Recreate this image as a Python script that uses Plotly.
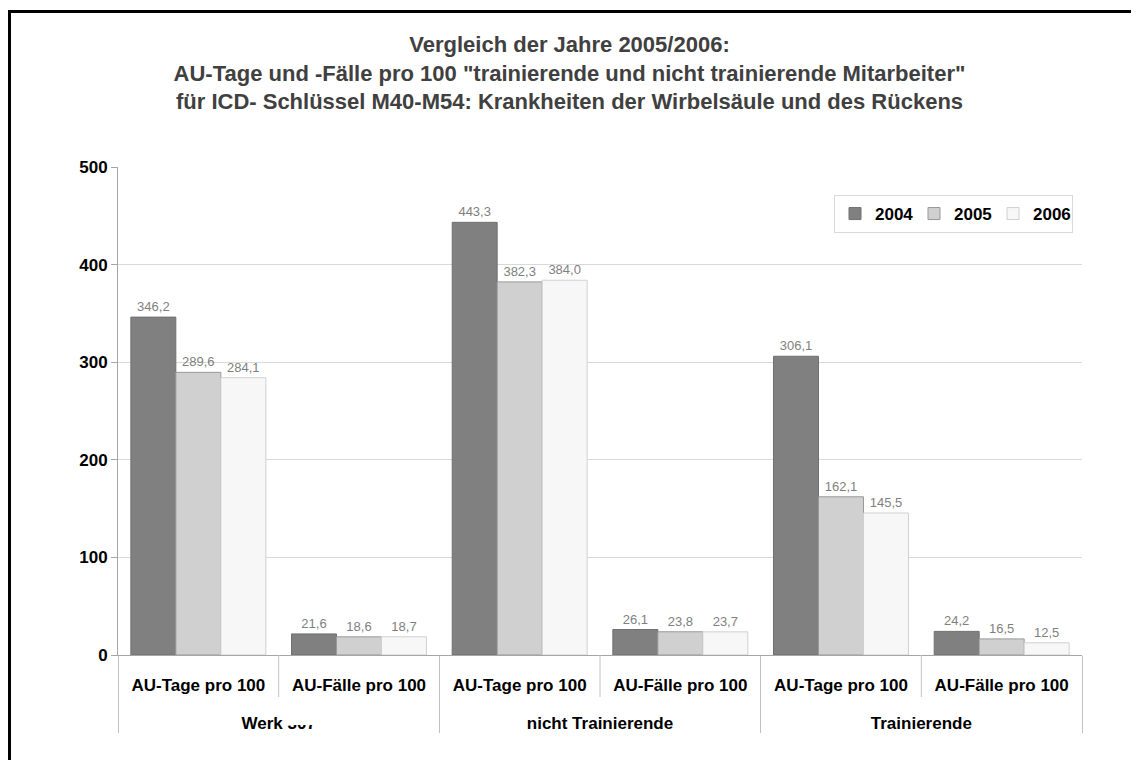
import plotly.graph_objects as go

groups = ["Werk 307", "Werk 307", "nicht Trainierende", "nicht Trainierende", "Trainierende", "Trainierende"]
subs = ["AU-Tage pro 100", "AU-Fälle pro 100"] * 3
years = ["2004", "2005", "2006"]
v2004 = [346.2, 21.6, 443.3, 26.1, 306.1, 24.2]
v2005 = [289.6, 18.6, 382.3, 23.8, 162.1, 16.5]
v2006 = [284.1, 18.7, 384.0, 23.7, 145.5, 12.5]
yticks = [0, 100, 200, 300, 400, 500]

W, H = 1139, 760
OFF = 8  # page body margin
L, R, T, B = 118 - OFF, 57 + OFF, 167 - OFF, 105 + OFF
pw, ph = W - L - R, H - T - B

fills = ["#808080", "#d0d0d0", "#f7f7f7"]
lines = ["#707070", "#999999", "#d0d0d0"]

group_labels = ["<br><span style='baseline-shift:-9px'>" + g + "</span>" for g in groups]

fig = go.Figure()
for name, vals, fc, lc in zip(years, [v2004, v2005, v2006], fills, lines):
    fig.add_trace(go.Bar(
        name=name, x=[group_labels, subs], y=vals,
        marker=dict(color=fc, line=dict(color=lc, width=1)),
        texttemplate="%{y:.1f}", textposition="outside",
        textfont=dict(family="Liberation Sans, Arial", size=13, color="#7f7f7f"),
        cliponaxis=False,
    ))

def px2x(p):
    return (p - OFF - L) / pw

def py2y(p):
    return (H - B - (p - OFF)) / ph

shapes = []
# outer frame (left and top visible)
shapes.append(dict(type="rect", xref="paper", yref="paper",
                   x0=px2x(9.5), x1=px2x(W + 40), y0=py2y(H + 40), y1=py2y(11.5),
                   line=dict(color="black", width=3), layer="above"))
# short dividers between sub-categories
for f in [1/6, 3/6, 5/6]:
    shapes.append(dict(type="line", xref="paper", yref="paper", x0=f, x1=f,
                       y0=0, y1=py2y(697), line=dict(color="#c0c0c0", width=1)))
# partially obscured digits of the first group label (as in the source image)
shapes.append(dict(type="rect", xref="paper", yref="paper",
                   x0=px2x(285), x1=px2x(318), y0=py2y(725), y1=py2y(705),
                   line=dict(width=0), fillcolor="white", layer="above"))

fig.update_layout(
    width=W, height=H,
    margin=dict(l=L, r=R, t=T, b=B),
    paper_bgcolor="white", plot_bgcolor="white",
    separators=",.",
    barmode="group", bargap=0.16, bargroupgap=0,
    font=dict(family="Liberation Sans, Arial", color="black"),
    title=dict(
        text="Vergleich der Jahre 2005/2006:<br>AU-Tage und -Fälle pro 100 \"trainierende und nicht trainierende Mitarbeiter\"<br>für ICD- Schlüssel M40-M54: Krankheiten der Wirbelsäule und des Rückens",
        x=0.5 - OFF / W, xref="container", xanchor="center",
        y=1 - 44 / H, yref="container", yanchor="top",
        font=dict(family="Liberation Sans, Arial", size=22, color="#404040", weight="bold"),
    ),
    legend=dict(
        orientation="h", x=px2x(1073), xanchor="right", y=py2y(195), yanchor="top",
        bgcolor="white", bordercolor="#d9d9d9", borderwidth=1,
        font=dict(family="Liberation Sans, Arial", size=17, color="black", weight="bold"),
        itemwidth=30, entrywidth=34, entrywidthmode="pixels",
    ),
    xaxis=dict(
        type="multicategory", showline=True, linecolor="#a6a6a6", linewidth=1,
        showdividers=True, dividercolor="#c0c0c0", dividerwidth=1,
        tickfont=dict(family="Liberation Sans, Arial", size=17, color="black", weight="bold"),
        ticks="", ticklabelstandoff=15,
    ),
    yaxis=dict(
        range=[0, 500], tickvals=yticks, showgrid=True, gridcolor="#d9d9d9",
        showline=True, linecolor="#a6a6a6", linewidth=1,
        ticks="outside", ticklen=6, tickcolor="#a6a6a6",
        tickfont=dict(family="Liberation Sans, Arial", size=17, color="black", weight="bold"),
        zeroline=False,
    ),
    shapes=shapes,
)

fig.write_html("out.html")
